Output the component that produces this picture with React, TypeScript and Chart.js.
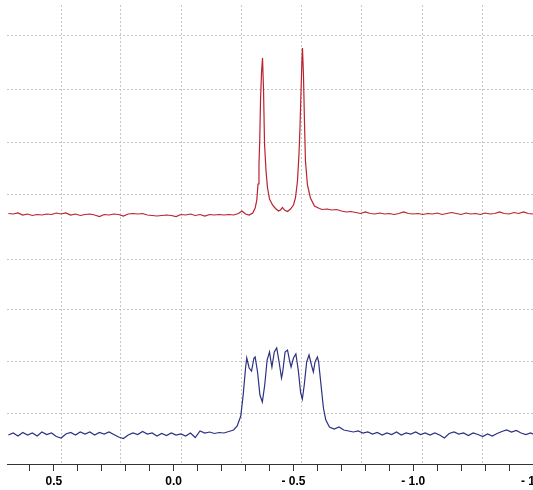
import React, { useEffect, useRef } from 'react';
import { Chart, registerables } from 'chart.js';

Chart.register(...registerables);

// Chemical shift (ppm) / intensity pairs, upper (red) spectrum
const redSpectrum: [number, number][] = [
  [0.69, 250.5], [0.67, 250], [0.65, 251], [0.63, 249], [0.61, 250], [0.59, 248.5], [0.57, 249.5],
  [0.55, 249], [0.53, 250], [0.51, 249.5], [0.49, 251], [0.47, 250], [0.45, 251], [0.43, 249],
  [0.41, 250], [0.39, 248.5], [0.37, 249.5], [0.35, 250], [0.33, 249], [0.31, 247.5], [0.29, 249.5],
  [0.27, 249], [0.25, 250], [0.23, 249.5], [0.21, 248], [0.19, 250], [0.17, 250.5], [0.15, 250],
  [0.13, 250.5], [0.11, 249], [0.09, 248.5], [0.07, 248], [0.05, 248.5], [0.03, 249], [0.01, 248.5],
  [-0.01, 247.5], [-0.03, 249.5], [-0.05, 249], [-0.07, 250], [-0.09, 248.5], [-0.11, 249.5],
  [-0.13, 248], [-0.15, 249.5], [-0.17, 249], [-0.19, 249.5], [-0.21, 249], [-0.23, 249.5],
  [-0.25, 249], [-0.27, 250.5], [-0.285, 253], [-0.3, 250], [-0.315, 249], [-0.33, 251],
  [-0.34, 256], [-0.347, 264], [-0.352, 280], [-0.356, 300], [-0.3593, 325], [-0.3625, 364], [-0.3667, 392],
  [-0.3708, 406], [-0.375, 374], [-0.3792, 320], [-0.3854, 293], [-0.3917, 276], [-0.4, 265],
  [-0.4125, 259], [-0.425, 255.5], [-0.4375, 253], [-0.4458, 254], [-0.4542, 256.5], [-0.4625, 254],
  [-0.475, 252.5], [-0.4875, 255], [-0.5, 259], [-0.5083, 266], [-0.5167, 283], [-0.523, 310], [-0.527, 335],
  [-0.5313, 371], [-0.5354, 404], [-0.5375, 416], [-0.5417, 389], [-0.5458, 343], [-0.55, 303],
  [-0.5583, 279], [-0.5708, 266], [-0.5875, 258], [-0.6083, 255.5], [-0.62, 254.5], [-0.64, 255],
  [-0.66, 254], [-0.68, 254.5], [-0.7, 253], [-0.72, 252], [-0.74, 252.5], [-0.76, 251.5],
  [-0.78, 250.5], [-0.8, 252], [-0.82, 250.5], [-0.84, 250], [-0.86, 251], [-0.88, 250],
  [-0.9, 250.5], [-0.92, 249.5], [-0.94, 250.5], [-0.96, 252], [-0.98, 250.5], [-1.0, 250],
  [-1.02, 250.5], [-1.04, 249.5], [-1.06, 250.5], [-1.08, 250], [-1.1, 251], [-1.12, 249.5],
  [-1.14, 250.5], [-1.16, 251.5], [-1.18, 250.5], [-1.2, 249.5], [-1.22, 251], [-1.24, 250],
  [-1.26, 250.5], [-1.28, 249.5], [-1.3, 251], [-1.32, 250], [-1.34, 250.5], [-1.36, 252],
  [-1.38, 250.5], [-1.4, 250], [-1.42, 251.5], [-1.44, 250.5], [-1.46, 252], [-1.48, 250.5],
  [-1.5, 250], [-1.52, 250.5], [-1.54, 250], [-1.56, 250.5], [-1.58, 250], [-1.6, 250.5],
];

// Chemical shift (ppm) / intensity pairs, lower (blue) spectrum
const blueSpectrum: [number, number][] = [
  [0.69, 29], [0.67, 31], [0.65, 28], [0.63, 31.5], [0.61, 29], [0.59, 31], [0.57, 28], [0.55, 32],
  [0.53, 29.5], [0.51, 31], [0.49, 27.5], [0.47, 26], [0.45, 30], [0.43, 31.5], [0.41, 29],
  [0.39, 32], [0.37, 30], [0.35, 32], [0.33, 29], [0.31, 31.5], [0.29, 30], [0.27, 32], [0.25, 29.5],
  [0.23, 27], [0.21, 25.5], [0.19, 29], [0.17, 31], [0.15, 29.5], [0.13, 32.5], [0.11, 30],
  [0.09, 31], [0.07, 28], [0.05, 30.5], [0.03, 28.5], [0.01, 31], [-0.01, 29], [-0.03, 30],
  [-0.05, 28], [-0.07, 31], [-0.09, 26.5], [-0.11, 33], [-0.13, 31], [-0.15, 32], [-0.17, 30.5],
  [-0.19, 31.5], [-0.21, 31], [-0.23, 32.5], [-0.25, 34], [-0.265, 38], [-0.28, 48], [-0.29, 69],
  [-0.3, 96], [-0.305, 106], [-0.315, 96], [-0.325, 93], [-0.335, 106], [-0.34, 107], [-0.35, 92],
  [-0.36, 69], [-0.37, 62], [-0.38, 79], [-0.39, 104], [-0.4, 112], [-0.405, 104], [-0.41, 97],
  [-0.42, 112], [-0.43, 116], [-0.44, 102], [-0.45, 86], [-0.455, 92], [-0.465, 112], [-0.475, 114],
  [-0.485, 102], [-0.49, 97], [-0.5, 106], [-0.51, 110], [-0.52, 94], [-0.53, 71], [-0.537, 65],
  [-0.545, 79], [-0.555, 102], [-0.565, 109], [-0.575, 99], [-0.583, 92], [-0.59, 102], [-0.6, 107],
  [-0.605, 102], [-0.615, 79], [-0.625, 56], [-0.635, 44], [-0.65, 37], [-0.67, 35], [-0.69, 37],
  [-0.71, 34], [-0.73, 33], [-0.75, 32], [-0.77, 33], [-0.79, 31], [-0.81, 32], [-0.83, 30],
  [-0.85, 31.5], [-0.87, 29], [-0.89, 31], [-0.91, 29.5], [-0.93, 32], [-0.95, 29], [-0.97, 31],
  [-0.99, 30], [-1.01, 32], [-1.03, 29.5], [-1.05, 31], [-1.07, 29], [-1.09, 31], [-1.11, 29],
  [-1.13, 26], [-1.15, 30.5], [-1.17, 32], [-1.19, 30], [-1.21, 31], [-1.23, 28.5], [-1.25, 31],
  [-1.27, 29.5], [-1.29, 27.5], [-1.31, 30], [-1.33, 28], [-1.35, 30.5], [-1.37, 32.5], [-1.39, 34],
  [-1.41, 32], [-1.43, 33.5], [-1.45, 31], [-1.47, 29.5], [-1.49, 31], [-1.51, 29], [-1.53, 30.5],
  [-1.55, 30], [-1.57, 31], [-1.59, 29.5],
];

// x axis tick positions (ppm) and labelled ones
const tickValues = [0.6, 0.5, 0.4, 0.3, 0.2, 0.1, 0.0, -0.1, -0.2, -0.3, -0.4, -0.5, -0.6, -0.7, -0.8, -0.9, -1.0, -1.1, -1.2, -1.3, -1.4, -1.5, -1.6];
const tickLabels: Record<string, string> = { '0.5': '0.5', '0.0': '0.0', '-0.5': '- 0.5', '-1.0': '- 1.0', '-1.5': '- 1.5' };

// Background grid positions
const gridX = [0.47, 0.22, -0.033, -0.283, -0.533, -0.783, -1.0375, -1.29];
const gridY = [51, 103, 154, 205, 270, 322, 375, 429];

const X_MAX = 0.69583;
const X_MIN = -1.60833;

export default function App() {
  const ref = useRef<HTMLCanvasElement>(null);
  useEffect(() => {
    if (!ref.current) return;
    const chart = new Chart(ref.current, {
      type: 'line',
      data: {
        datasets: [
          {
            data: redSpectrum.map(([x, y]) => ({ x, y })),
            borderColor: '#b8232f',
            borderWidth: 1.2,
            pointRadius: 0,
            tension: 0,
            xAxisID: 'x',
            yAxisID: 'y',
          },
          {
            data: blueSpectrum.map(([x, y]) => ({ x, y })),
            borderColor: '#2c3180',
            borderWidth: 1.2,
            pointRadius: 0,
            tension: 0,
            xAxisID: 'x',
            yAxisID: 'y',
          },
        ],
      },
      options: {
        responsive: false,
        devicePixelRatio: 1,
        animation: false,
        events: [],
        layout: { padding: { left: 7, top: 5, right: 0, bottom: 0 } },
        plugins: { legend: { display: false }, tooltip: { enabled: false } },
        scales: {
          x: {
            type: 'linear',
            reverse: true,
            min: X_MIN,
            max: X_MAX,
            position: 'bottom',
            afterBuildTicks: (s: any) => {
              s.ticks = tickValues.map((v) => ({ value: v }));
            },
            afterFit: (s: any) => {
              s.height = 26;
            },
            ticks: {
              autoSkip: false,
              maxRotation: 0,
              minRotation: 0,
              padding: 3,
              color: '#000',
              font: { family: '"Liberation Sans", Arial, sans-serif', size: 12, weight: 'bold' },
              callback: (v: any) => tickLabels[Number(v).toFixed(1)] ?? '',
            },
            grid: { drawOnChartArea: false, drawTicks: true, tickLength: 7, tickColor: '#333', lineWidth: 1 },
            border: { display: true, color: '#333', width: 1 },
          },
          xg: {
            type: 'linear',
            reverse: true,
            min: X_MIN,
            max: X_MAX,
            position: 'top',
            afterBuildTicks: (s: any) => {
              s.ticks = gridX.map((v) => ({ value: v }));
            },
            afterFit: (s: any) => {
              s.height = 0;
            },
            ticks: { display: false },
            grid: { color: '#c6c6c6', drawTicks: false, lineWidth: 1 },
            border: { display: false, dash: [2, 2] },
          },
          y: {
            type: 'linear',
            min: 0,
            max: 459,
            position: 'left',
            afterBuildTicks: (s: any) => {
              s.ticks = gridY.map((v) => ({ value: v }));
            },
            afterFit: (s: any) => {
              s.width = 0;
            },
            ticks: { display: false },
            grid: { color: '#c6c6c6', drawTicks: false, lineWidth: 1 },
            border: { display: false, dash: [2, 2] },
          },
        },
      } as any,
    });
    return () => chart.destroy();
  }, []);

  return (
    <div style={{ position: 'absolute', left: 0, top: 0, width: 533, height: 490, overflow: 'hidden', background: '#fff' }}>
      <canvas ref={ref} width={560} height={490} style={{ display: 'block' }} />
    </div>
  );
}
